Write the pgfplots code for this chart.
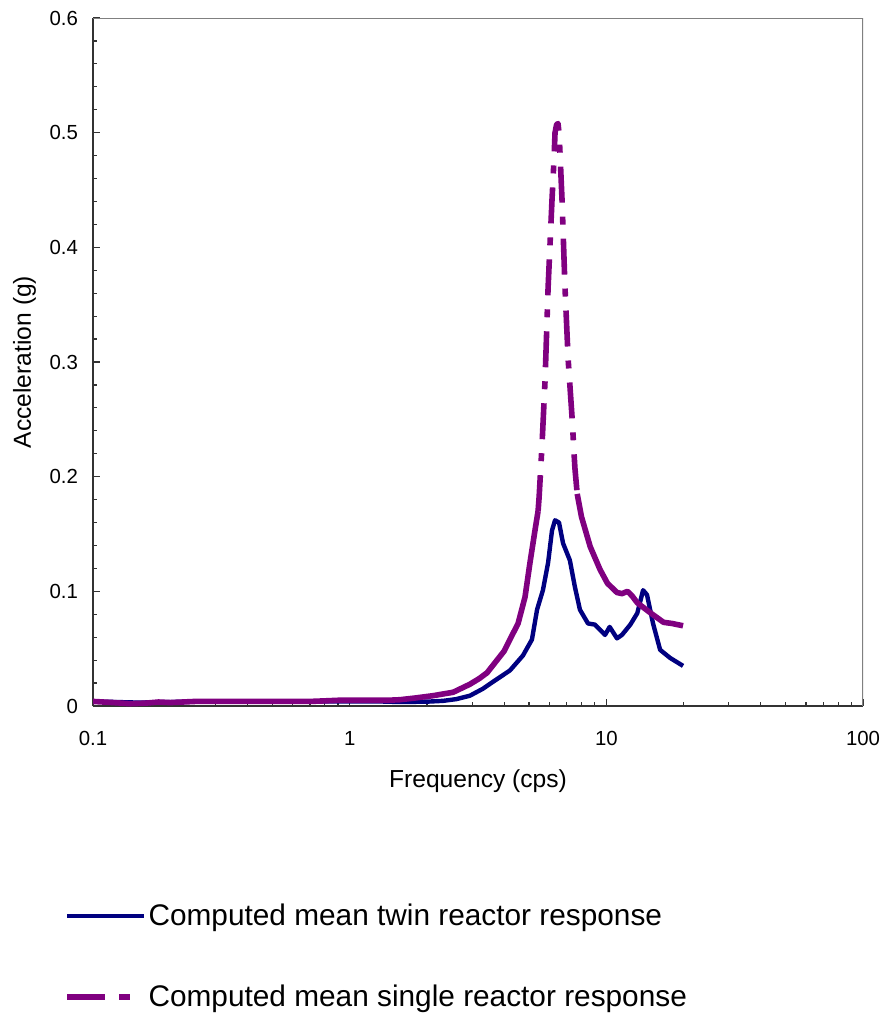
\documentclass[border=0pt]{standalone}
\usepackage{pgfplots}
\pgfplotsset{compat=1.18}
\usepackage{fontspec}
\setmainfont{Liberation Sans}
\definecolor{twin}{RGB}{0,0,128}
\definecolor{single}{RGB}{128,0,128}
\begin{document}
\begin{tikzpicture}
\begin{axis}[
  scale only axis,
  width=385pt, height=344pt,
  xmode=log,
  xmin=0.1, xmax=100,
  ymin=0, ymax=0.6,
  xtick={0.1,1,10,100},
  xticklabels={0.1,1,10,100},
  ytick={0,0.1,0.2,0.3,0.4,0.5,0.6},
  yticklabels={0,0.1,0.2,0.3,0.4,0.5,0.6},
  minor y tick num=4,
  tick align=inside,
  axis x line*=bottom,
  axis y line*=left,
  axis line style={-, black!80, line width=0.9pt},
  major tick length=3.5pt,
  minor tick length=2pt,
  every tick/.style={black!80, line width=0.6pt},
  font=\fontsize{10.2}{12}\selectfont,
  /pgf/number format/assume math mode=true,
  xticklabel style={yshift=-9pt},
  yticklabel style={xshift=-4pt},
  xlabel={Frequency (cps)},
  ylabel={Acceleration (g)},
  label style={font=\fontsize{12.3}{14}\selectfont},
  xlabel style={yshift=-5pt},
  ylabel style={yshift=0pt},
  legend style={at={(-0.0377,-0.2845)}, anchor=north west, draw=none, fill=none,
    font=\fontsize{14.9}{17}\selectfont, row sep=26.5pt, inner sep=0pt,
    nodes={inner sep=0.8pt}},
  legend cell align=left,
  legend image code/.code={\draw[#1] (0pt,0pt) -- (38.5pt,0pt);},
]
\addplot[twin, line width=2.2pt, line join=round] coordinates {
(0.1,0.004) (0.15,0.003) (0.2,0.0035) (0.3,0.004) (0.5,0.004) (0.8,0.004) (1.0,0.004)
(1.3,0.004) (1.57,0.0035) (2.0,0.0038) (2.31,0.0045) (2.6,0.006) (2.94,0.009)
(3.3,0.015) (3.61,0.021) (4.21,0.031) (4.73,0.044) (5.13,0.058) (5.37,0.084)
(5.66,0.101) (5.93,0.125) (6.14,0.153) (6.31,0.162) (6.54,0.160) (6.78,0.142)
(7.21,0.127) (7.54,0.104) (7.89,0.084) (8.48,0.072) (9.03,0.071) (9.88,0.062)
(10.3,0.069) (11.0,0.059) (11.5,0.062) (12.4,0.071) (13.2,0.081) (13.9,0.101)
(14.4,0.097) (15.2,0.072) (16.2,0.049) (17.7,0.042) (19.9,0.035)
};
\addlegendentry{Computed mean twin reactor response}
% low-frequency rising part (dense data, drawn solid)
\addplot[single, line width=2.8pt, line join=round, forget plot] coordinates {
(0.1,0.004) (0.12,0.003) (0.14,0.002) (0.16,0.0025) (0.18,0.0035) (0.2,0.003)
(0.25,0.004) (0.3,0.004) (0.4,0.004) (0.5,0.004) (0.6,0.004) (0.7,0.004)
(0.8,0.0045) (0.9,0.005) (1.0,0.005) (1.2,0.005) (1.4,0.005) (1.57,0.0055)
(1.8,0.007) (2.11,0.009) (2.53,0.012) (2.94,0.019) (3.2,0.024) (3.43,0.029)
(3.75,0.040) (4.0,0.048) (4.21,0.058) (4.53,0.072) (4.82,0.095) (5.04,0.125)
(5.27,0.153) (5.42,0.170)
};
% peak (dash-dot)
\addplot[single, line width=2.8pt, line join=round, dash pattern=on 18pt off 7pt on 4pt off 7pt,
  legend image code/.code={\draw[single, line width=2.8pt, dash pattern=on 19pt off 7pt on 5.5pt off 30pt] (0pt,0pt) -- (38.5pt,0pt);}] coordinates {
(5.42,0.170) (5.47,0.182) (5.61,0.226) (5.77,0.284) (5.93,0.365) (6.14,0.441)
(6.25,0.476) (6.31,0.500) (6.40,0.507) (6.48,0.508) (6.54,0.500) (6.59,0.485) (6.72,0.441) (6.90,0.365)
(7.10,0.302) (7.35,0.252) (7.54,0.208) (7.70,0.185)
};
\addlegendentry{Computed mean single reactor response}
% tail (drawn solid)
\addplot[single, line width=2.8pt, line join=round, forget plot] coordinates {
(7.70,0.185) (8.0,0.165) (8.65,0.139)
(9.45,0.119) (10.1,0.107) (11.0,0.099) (11.5,0.098) (12.1,0.100) (12.6,0.096)
(13.2,0.090) (14.9,0.081) (16.7,0.073) (18.0,0.072) (19.9,0.070)
};
\draw[gray, line width=0.9pt] (rel axis cs:0,1) -- (rel axis cs:1,1) -- (rel axis cs:1,0);
\coordinate (bbtl) at (rel axis cs:-0.1208,1.0262);
\coordinate (bbbr) at (rel axis cs:1.0299,-0.4491);
\end{axis}
\path (bbtl) rectangle (bbbr);
\end{tikzpicture}
\end{document}
